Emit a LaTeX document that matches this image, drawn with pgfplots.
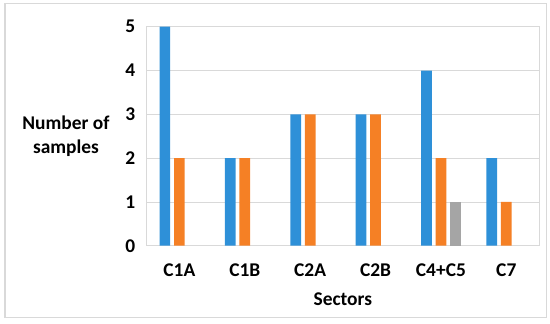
\documentclass[border=0pt]{standalone}
\usepackage{fontspec}
\setmainfont{Carlito}
\usepackage{pgfplots}
\pgfplotsset{compat=1.18}
\definecolor{cblue}{RGB}{46,144,216}
\definecolor{corange}{RGB}{245,128,37}
\definecolor{cgray}{RGB}{165,165,165}
\definecolor{cgrid}{RGB}{217,217,217}
\begin{document}
\begin{tikzpicture}
\useasboundingbox (-146.7bp,-78.3bp) rectangle (403.3bp,245.7bp);
\draw[cgrid, line width=1.5bp] (-141.7bp,-72bp) rectangle (400bp,242.2bp);
\begin{axis}[
  at={(0,0)}, anchor=south west,
  scale only axis, width=392.3bp, height=219bp,
  xmin=-0.5, xmax=5.5, ymin=0, ymax=5,
  ytick={0,1,2,3,4,5},
  xtick={0,1,2,3,4,5},
  xticklabels={C1A,C1B,C2A,C2B,C4+C5,C7},
  ymajorgrids,
  grid style={cgrid, line width=0.8bp},
  axis line style={cgrid, line width=0.8bp},
  major tick length=0pt,
  tick label style={font=\fontsize{19.5}{22}\selectfont\bfseries},
  /pgf/number format/assume math mode=true,
  yticklabel style={anchor=east, xshift=-8bp},
  xticklabel style={anchor=base, yshift=-31bp},
  xlabel={Sectors},
  xlabel style={font=\fontsize{19.5}{22}\selectfont\bfseries, at={(axis description cs:0.5,0)}, anchor=base, yshift=-60bp},
  ylabel={Number of\\samples},
  ylabel style={font=\fontsize{19.5}{23.5}\selectfont\bfseries, rotate=-90, align=center, at={(axis description cs:0,0.5)}, anchor=center, xshift=-80.7bp, yshift=0bp},
  ybar, bar width=10.7bp,
]
\addplot[fill=cblue, draw=none, bar shift=-14.5bp] coordinates {(0,5) (1,2) (2,3) (3,3) (4,4) (5,2)};
\addplot[fill=corange, draw=none, bar shift=0bp] coordinates {(0,2) (1,2) (2,3) (3,3) (4,2) (5,1)};
\addplot[fill=cgray, draw=none, bar shift=14.5bp] coordinates {(4,1)};
\end{axis}
\end{tikzpicture}
\end{document}
